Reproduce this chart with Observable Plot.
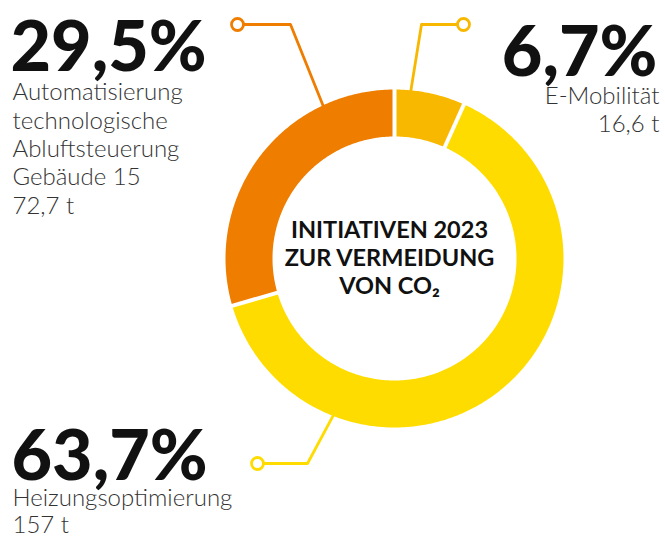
<!DOCTYPE html>
<html><head><meta charset="utf-8">
<script src="https://cdn.jsdelivr.net/npm/d3@7"></script>
<script src="https://cdn.jsdelivr.net/npm/@observablehq/plot@0.6"></script>
<style>html,body{margin:0;padding:0;background:#fff;} svg{display:block}</style>
</head><body><div id="chart"></div>
<script>
// ---- data ----
const categories = ["E-Mobilität", "Heizungsoptimierung", "Automatisierung"];
const labelLines = [["E-Mobilität"], ["Heizungsoptimierung"], ["Automatisierung", "technologische", "Abluftsteuerung", "Gebäude 15"]];
const tonnes = [16.6, 157, 72.7];
const colors = ["#F9B800", "#FFDC00", "#EF7D00"];
const centerTitle = ["INITIATIVEN 2023", "ZUR VERMEIDUNG", "VON CO₂"];

// ---- layout ----
const W = 665, H = 536;
const cx = 394, cy = 258, rOuter = 169, rInner = 122;
const layout = [
  {dot: [463, 24], elbow: [421, 24], ringDeg: 5.4, pct: [657, 75], anchor: "end", lab: [659, 131], lh: 28 / 24},
  {dot: [257, 463], elbow: [307, 463], ringDeg: 201, pct: [11, 479], anchor: "start", lab: [12, 532], lh: 27 / 24},
  {dot: [237, 24], elbow: [290, 24], ringDeg: 334.8, pct: [10, 70], anchor: "start", lab: [12, 213], lh: 28.3 / 24}
];

const total = d3.sum(tonnes);
const fmt = v => String(v).replace(".", ",");
const pctText = tonnes.map(v => (v / total * 100).toFixed(1).replace(".", ",") + "%");
const pie = d3.pie().sort(null).value(d => d)(tonnes);
const pt = (a, r) => [cx + r * Math.sin(a), cy - r * Math.cos(a)];

const ring = [];
pie.forEach((p, i) => {
  const n = Math.max(8, Math.ceil((p.endAngle - p.startAngle) / 0.01));
  for (let k = 0; k <= n; k++) {
    const a = p.startAngle + (p.endAngle - p.startAngle) * k / n;
    const [x, y] = pt(a, rOuter); ring.push({cat: categories[i], x, y});
  }
  for (let k = n; k >= 0; k--) {
    const a = p.startAngle + (p.endAngle - p.startAngle) * k / n;
    const [x, y] = pt(a, rInner); ring.push({cat: categories[i], x, y});
  }
});
const seps = pie.map(p => {
  const [x1, y1] = pt(p.startAngle, rInner - 3);
  const [x2, y2] = pt(p.startAngle, rOuter + 3);
  return {x1, y1, x2, y2};
});
const leaders = [];
const dots = [];
categories.forEach((c, i) => {
  const L = layout[i];
  const [rx, ry] = pt(L.ringDeg * Math.PI / 180, rOuter - 8);
  leaders.push({cat: c, x: L.dot[0], y: L.dot[1]}, {cat: c, x: L.elbow[0], y: L.elbow[1]}, {cat: c, x: rx, y: ry});
  dots.push({cat: c, x: L.dot[0], y: L.dot[1]});
});

const font = "Lato, 'Open Sans', sans-serif";
const textMarks = [];
categories.forEach((c, i) => {
  const L = layout[i];
  textMarks.push(Plot.text([{x: L.pct[0], y: L.pct[1], t: pctText[i]}], {
    x: "x", y: "y", text: "t", textAnchor: L.anchor, lineAnchor: "bottom",
    fontFamily: font, fontSize: 70, fontWeight: 900, fill: "#111"
  }));
  textMarks.push(Plot.text([{x: L.lab[0], y: L.lab[1], t: labelLines[i].concat([fmt(tonnes[i]) + " t"]).join("\n")}], {
    x: "x", y: "y", text: "t", textAnchor: L.anchor, lineAnchor: "bottom", lineHeight: L.lh,
    fontFamily: font, fontSize: 24, fontWeight: 300, fill: "#333"
  }));
});
textMarks.push(Plot.text([{x: 389, y: 293, t: centerTitle.join("\n")}], {
  x: "x", y: "y", text: "t", textAnchor: "middle", lineAnchor: "bottom", lineHeight: 28 / 23.5,
  fontFamily: font, fontSize: 23.5, fontWeight: 700, fill: "#111"
}));

const chart = Plot.plot({
  width: W, height: H, margin: 0,
  x: {domain: [0, W], range: [0, W], axis: null},
  y: {domain: [0, H], range: [0, H], axis: null},
  color: {domain: categories, range: colors},
  style: {background: "white", fontFamily: font},
  marks: [
    Plot.line(leaders, {x: "x", y: "y", z: "cat", stroke: "cat", strokeWidth: 2.8, curve: "linear"}),
    Plot.line(ring, {x: "x", y: "y", z: "cat", fill: "cat", stroke: "none"}),
    Plot.link(seps, {x1: "x1", y1: "y1", x2: "x2", y2: "y2", stroke: "white", strokeWidth: 4}),
    Plot.dot(dots, {x: "x", y: "y", r: 6, stroke: "cat", fill: "white", strokeWidth: 2.8}),
    ...textMarks
  ]
});
document.getElementById("chart").append(chart);
</script>
</body></html>
